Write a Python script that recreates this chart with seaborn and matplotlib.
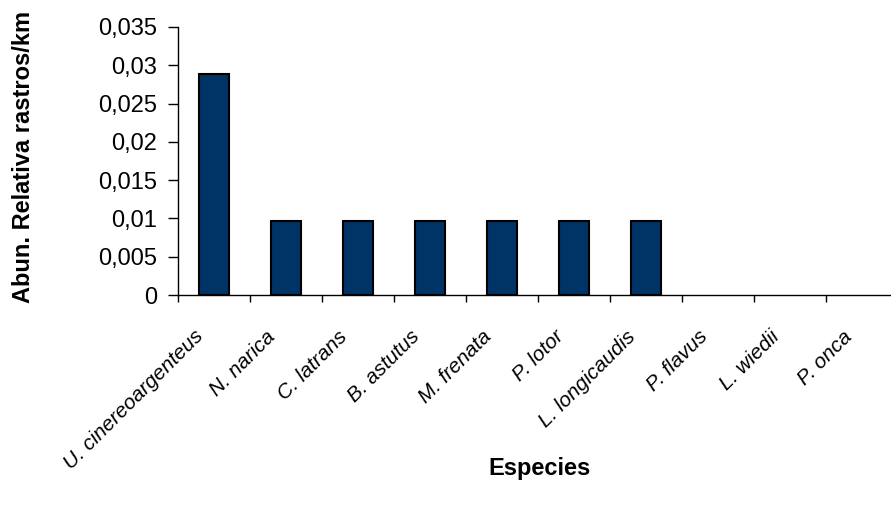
import numpy as np
import pandas as pd
import seaborn as sns
import matplotlib.pyplot as plt
from matplotlib.ticker import FuncFormatter, FixedLocator
from matplotlib.transforms import ScaledTranslation

# data
especies = ['U. cinereoargenteus', 'N. narica', 'C. latrans', 'B. astutus', 'M. frenata',
            'P. lotor', 'L. longicaudis', 'P. flavus', 'L. wiedii', 'P. onca']
abundancia = [0.0288, 0.0096, 0.0096, 0.0096, 0.0096, 0.0096, 0.0096, 0, 0, 0]
y_ticks = [0, 0.005, 0.01, 0.015, 0.02, 0.025, 0.03, 0.035]

df = pd.DataFrame({'Especie': especies, 'Abundancia': abundancia})

sns.set_style('white')
plt.rcParams['font.family'] = ['Liberation Sans', 'DejaVu Sans']
plt.rcParams['text.color'] = 'black'
plt.rcParams['xtick.color'] = 'black'
plt.rcParams['ytick.color'] = 'black'

fig = plt.figure(figsize=(8.91, 5.15), dpi=100)
W, H = 891, 515
ax = fig.add_axes([178 / W, 1 - 295 / H, 720 / W, 268 / H])

sns.barplot(data=df, x='Especie', y='Abundancia', color='#003366', width=0.42,
            edgecolor='black', linewidth=1.5, saturation=1, ax=ax)
# zero-height bars are not drawn in the original
for p in ax.patches:
    if p.get_height() == 0:
        p.set_visible(False)

ax.set_xlim(-0.5, len(especies) - 0.5)
ax.set_ylim(0, 0.035)
ax.set_yticks(y_ticks)
ax.yaxis.set_major_formatter(FuncFormatter(lambda v, p: ('%g' % v).replace('.', ',')))
ax.tick_params(axis='y', labelsize=17, length=7, width=1, direction='out', left=True, pad=8)

# labels at category centres, tick marks at category boundaries (Excel style)
ax.tick_params(axis='x', which='major', length=0, pad=23)
ax.xaxis.set_minor_locator(FixedLocator(np.arange(-0.5, len(especies), 1)))
ax.tick_params(axis='x', which='minor', length=5, width=1, bottom=True, direction='out')
ax.set_xticks(range(len(especies)))
ax.set_xticklabels(especies, rotation=45, ha='right', rotation_mode='anchor',
                   fontsize=15, style='italic')
shift = ScaledTranslation(-20 / 100, 0, fig.dpi_scale_trans)
for lbl in ax.get_xticklabels():
    lbl.set_transform(lbl.get_transform() + shift)

for s in ['top', 'right']:
    ax.spines[s].set_visible(False)
for s in ['left', 'bottom']:
    ax.spines[s].set_color('black')
    ax.spines[s].set_linewidth(1)

ax.set_xlabel('')
ax.set_ylabel('')
fig.text(540 / W, 1 - 468 / H, 'Especies', ha='center', va='center',
         fontsize=17, fontweight='bold')
fig.text(24 / W, 1 - 157 / H, 'Abun. Relativa rastros/km', ha='center', va='center',
         rotation=90, fontsize=17, fontweight='bold')

fig.savefig('out.png', dpi=100)
